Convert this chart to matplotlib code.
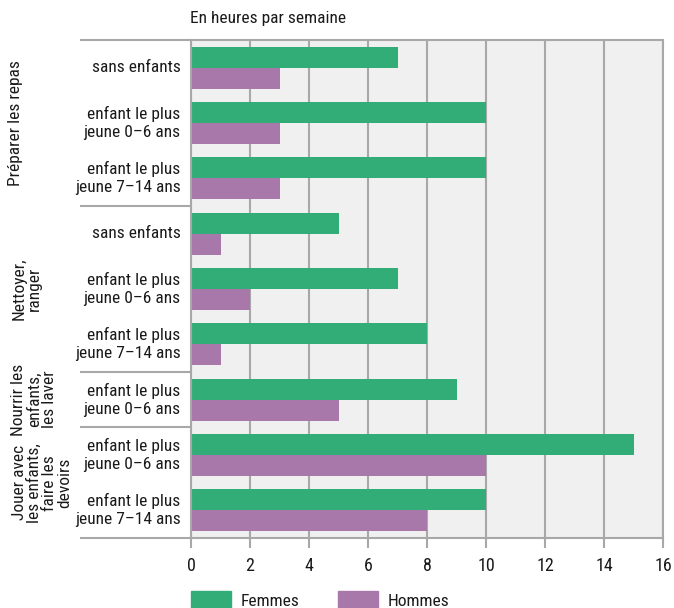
import matplotlib
matplotlib.use("Agg")
import matplotlib.pyplot as plt
from matplotlib.patches import Rectangle
import matplotlib.transforms as mtransforms

plt.rcParams['font.family'] = ['Roboto Condensed', 'Liberation Sans', 'DejaVu Sans']

groups = ["Préparer les repas", "Nettoyer,\nranger", "Nourrir les\nenfants,\nles laver",
          "Jouer avec\nles enfants,\nfaire les\ndevoirs"]
group_sizes = [3, 3, 1, 2]
row_labels = ["sans enfants", "enfant le plus\njeune 0–6 ans", "enfant le plus\njeune 7–14 ans",
              "sans enfants", "enfant le plus\njeune 0–6 ans", "enfant le plus\njeune 7–14 ans",
              "enfant le plus\njeune 0–6 ans",
              "enfant le plus\njeune 0–6 ans", "enfant le plus\njeune 7–14 ans"]
femmes = [7, 10, 10, 5, 7, 8, 9, 15, 10]
hommes = [3, 3, 3, 1, 2, 1, 5, 10, 8]
xticks = [0, 2, 4, 6, 8, 10, 12, 14, 16]
title = "En heures par semaine"
series_names = ["Femmes", "Hommes"]

GREEN = "#33ad78"
PURPLE = "#a878ab"
BG = "#eff0ef"
GRID = "#a8a8a8"
TXT = "#1a1a1a"
FS = 12.5

W, H = 674, 608
fig = plt.figure(figsize=(W / 100, H / 100), dpi=100)
ax = fig.add_axes([191 / W, 1 - 538 / H, 472 / W, 498 / H])
ax.set_facecolor(BG)

n = len(row_labels)
ys = [i + 0.5 for i in range(n)]
bh = 0.38
ax.barh([y - bh / 2 for y in ys], femmes, height=bh, color=GREEN, zorder=3)
ax.barh([y + bh / 2 for y in ys], hommes, height=bh, color=PURPLE, zorder=3)

ax.set_xlim(0, 16)
ax.set_ylim(n, 0)
ax.set_xticks(xticks)
ax.set_xticklabels([str(t) for t in xticks], fontsize=13, color=TXT)
ax.tick_params(axis='x', length=7, width=1.5, color=GRID, pad=7)
ax.set_yticks([])
ax.xaxis.grid(True, color=GRID, linewidth=1.5, zorder=1)
for s in ['bottom', 'right', 'left', 'top']:
    ax.spines[s].set_color(GRID)
    ax.spines[s].set_linewidth(1.5)
    ax.spines[s].set_zorder(4)

trans = mtransforms.blended_transform_factory(ax.transAxes, ax.transData)
x_left = (80 - 191) / 472
bounds = [0]
acc = 0
for g in group_sizes:
    acc += g
    bounds.append(acc)
for b in bounds:
    ax.plot([x_left, 0], [b, b], transform=trans, color=GRID, lw=1.5, clip_on=False,
            zorder=4, solid_capstyle='butt')

for y, lab in zip(ys, row_labels):
    ax.text(-0.022, y, lab, transform=trans, ha='right', va='center', fontsize=FS,
            color=TXT, linespacing=1.25)

gx = [16, 27, 34, 42]
for i, (g, gs) in enumerate(zip(groups, group_sizes)):
    yc = (bounds[i] + bounds[i + 1]) / 2
    ax.text((gx[i] - 191) / 472, yc, g, transform=trans, rotation=90, ha='center', va='center',
            multialignment='center', fontsize=FS, color=TXT, linespacing=1.0)

fig.text(190 / W, 1 - 19 / H, title, ha='left', va='center', fontsize=FS, color=TXT)

for (x0, col, name) in [(191, GREEN, series_names[0]), (338, PURPLE, series_names[1])]:
    fig.patches.append(Rectangle((x0 / W, 0), 40 / W, 17 / H, transform=fig.transFigure,
                                 color=col, figure=fig))
    fig.text((x0 + 50) / W, 1 - 601 / H, name, ha='left', va='center', fontsize=FS, color=TXT)

fig.savefig("out.png", dpi=100)
